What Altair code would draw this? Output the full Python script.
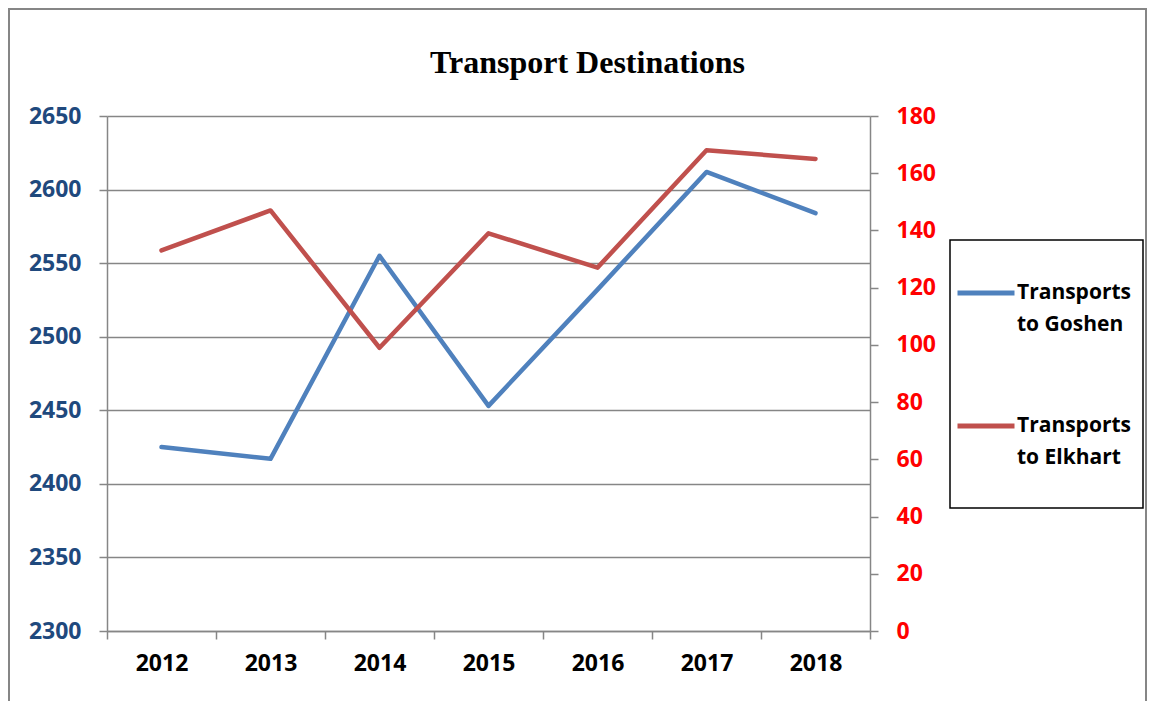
import altair as alt
import pandas as pd

years = ["2012", "2013", "2014", "2015", "2016", "2017", "2018"]
goshen = [2425, 2417, 2555, 2453, 2532, 2612, 2584]
elkhart = [133, 147, 99, 139, 127, 168, 165]
series_names = ["Transports to Goshen", "Transports to Elkhart"]
series_colors = ["#4F81BD", "#C0504D"]
left_ticks = [2300, 2350, 2400, 2450, 2500, 2550, 2600, 2650]
right_ticks = [0, 20, 40, 60, 80, 100, 120, 140, 160, 180]

df = pd.DataFrame({"year": years, "goshen": goshen, "elkhart": elkhart})

GRAY = "#868686"
color_scale = alt.Scale(domain=series_names, range=series_colors)
x_enc = alt.X(
    "year:O",
    title=None,
    scale=alt.Scale(paddingInner=0, paddingOuter=0),
    axis=alt.Axis(
        labelAngle=0, tickBand="extent", tickSize=8, labelPadding=13,
        labelFont="Open Sans", labelFontWeight="bold", labelFontSize=23,
        labelColor="black", domainColor=GRAY, tickColor=GRAY,
        domainWidth=1.5, tickWidth=1.5, grid=False,
    ),
)

legend = alt.Legend(
    title=None, orient="none", legendX=848, legendY=146,
    symbolType="stroke", symbolSize=3249, symbolStrokeWidth=5,
    labelFont="Open Sans", labelFontWeight="bold", labelFontSize=21, labelColor="black",
    labelExpr="datum.label == 'Transports to Goshen' ? ['Transports', 'to Goshen'] : ['Transports', 'to Elkhart']",
    labelBaseline="middle", labelOffset=0, labelLimit=300,
    padding=0, rowPadding=60, symbolOffset=0,
)
color_enc = alt.Color("series:N", scale=color_scale, legend=legend)

left = alt.Chart(df).transform_calculate(series="'Transports to Goshen'").mark_line(
    strokeWidth=4.5, strokeCap="round", strokeJoin="round"
).encode(
    x=x_enc,
    y=alt.Y(
        "goshen:Q", title=None,
        scale=alt.Scale(domain=[2300, 2650], nice=False, zero=False),
        axis=alt.Axis(
            values=left_ticks, format="d", orient="left", tickSize=8, labelPadding=18,
            labelFont="Open Sans", labelFontWeight="bold", labelFontSize=23,
            labelColor="#1F497D", grid=True, gridColor=GRAY, gridWidth=1.5,
            domainColor=GRAY, tickColor=GRAY, domainWidth=1.5, tickWidth=1.5,
        ),
    ),
    color=color_enc,
)

right = alt.Chart(df).transform_calculate(series="'Transports to Elkhart'").mark_line(
    strokeWidth=4.5, strokeCap="round", strokeJoin="round"
).encode(
    x=x_enc,
    y=alt.Y(
        "elkhart:Q", title=None,
        scale=alt.Scale(domain=[0, 180], nice=False),
        axis=alt.Axis(
            values=right_ticks, format="d", orient="right", tickSize=8, labelPadding=18,
            labelFont="Open Sans", labelFontWeight="bold", labelFontSize=23,
            labelColor="#FF0000", grid=False,
            domainColor=GRAY, tickColor=GRAY, domainWidth=1.5, tickWidth=1.5,
        ),
    ),
    color=color_enc,
)

# outer frame and legend box (decorations)
frame = alt.Chart(pd.DataFrame({"k": [0]})).mark_rect(
    fill=None, stroke=GRAY, strokeWidth=2
).encode(
    x=alt.value(-98), x2=alt.value(1039), y=alt.value(-107), y2=alt.value(700)
)
legend_box = alt.Chart(pd.DataFrame({"k": [0]})).mark_rect(
    fill=None, stroke="black", strokeWidth=1.5
).encode(
    x=alt.value(843), x2=alt.value(1036), y=alt.value(124), y2=alt.value(392)
)

chart = alt.layer(frame, legend_box, left, right).resolve_scale(y="independent").properties(
    width=763, height=515,
    autosize=alt.AutoSizeParams(type="none"),
    padding={"left": 99, "top": 108, "right": 278, "bottom": 70},
    title=alt.TitleParams(
        "Transport Destinations", font="Liberation Serif", fontWeight="bold",
        fontSize=32, color="black", anchor="middle", dx=99, offset=-97,
        baseline="alphabetic",
    ),
).configure(
    view=alt.ViewConfig(stroke=None),
    style={"guide-label": {"lineHeight": 32}},
)

chart.save("out.html", embed_options={"renderer": "svg", "actions": False})
